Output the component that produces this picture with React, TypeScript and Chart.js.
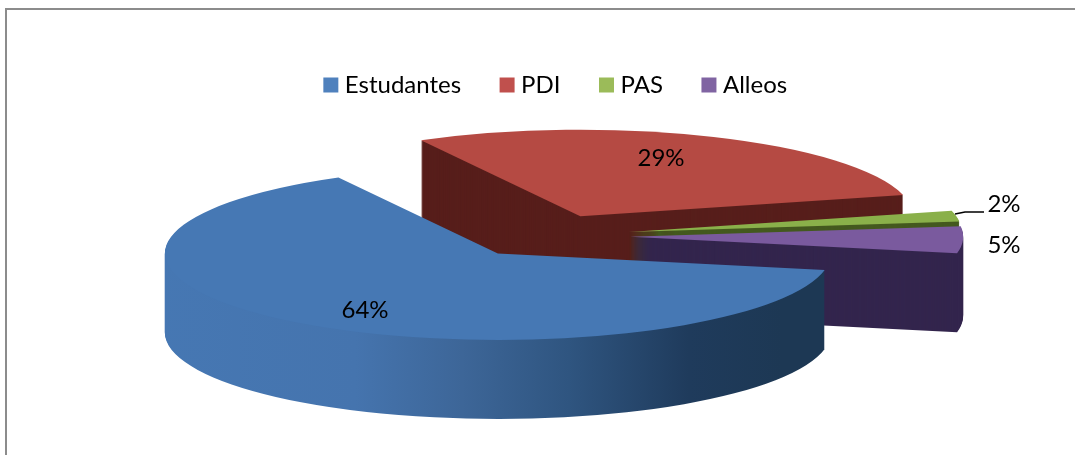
import React, { useEffect, useRef } from "react";
import { Chart, registerables } from "chart.js";

Chart.register(...registerables);

const categories = ["Estudantes", "PDI", "PAS", "Alleos"];
const values = [64, 29, 2, 5];
const legendColors = ["#4f81bd", "#c0504d", "#9bbb59", "#8064a2"];
const faceColors = ["#4678b4", "#b54a43", "#8ab04a", "#7a5a9e"];
const sideColors = ["#3c6594", "#571e1b", "#44591f", "#33254d"];
const blueSideStops: [number, string][] = [
  [0, "#4678b4"],
  [0.36, "#4574ae"],
  [0.52, "#3d6698"],
  [0.68, "#2f5580"],
  [0.86, "#1f3b5c"],
  [1, "#1d3854"],
];
const labelCenters = [
  [365, 310],
  [661, 158],
  [1004, 204],
  [1004, 245],
];
const FONT = "Lato, 'Open Sans', sans-serif";
const drawOrder = [1, 2, 3, 0];
const BASE_RADIUS = 160;
const EXPLODE = 0.25;
const RADIUS_X = 333;
const RADIUS_Y = 86.5;
const DEPTH = 79;
const CENTER_X = 547;
const CENTER_Y = 236;

const pie3d = {
  id: "pie3d",
  beforeDatasetsDraw(chart: any) {
    const ctx = chart.ctx as CanvasRenderingContext2D;
    const arcs = chart.getDatasetMeta(0).data as any[];
    const sx = RADIUS_X / BASE_RADIUS;
    const sy = RADIUS_Y / BASE_RADIUS;
    const paint = (arc: any, color: any, drop: number) => {
      const mid = (arc.startAngle + arc.endAngle) / 2;
      const copy = Object.create(arc);
      copy.options = { ...arc.options, backgroundColor: color, borderWidth: 0 };
      ctx.save();
      ctx.translate(CENTER_X, CENTER_Y + drop);
      ctx.scale(sx, sy);
      ctx.translate(
        Math.cos(mid) * EXPLODE * BASE_RADIUS - arc.x,
        Math.sin(mid) * EXPLODE * BASE_RADIUS - arc.y
      );
      copy.draw(ctx);
      ctx.restore();
    };
    for (const i of drawOrder) {
      const arc = arcs[i];
      let side: any = sideColors[i];
      if (i === 0) {
        // The gradient lives in the arc's own space, so it follows the scale.
        const mid = (arc.startAngle + arc.endAngle) / 2;
        const left = arc.x + Math.cos(mid) * EXPLODE * BASE_RADIUS - BASE_RADIUS;
        const g = ctx.createLinearGradient(left, 0, left + 2 * BASE_RADIUS, 0);
        blueSideStops.forEach(([p, c]) => g.addColorStop(p, c));
        side = g;
      }
      for (let d = DEPTH; d >= 1; d--) paint(arc, side, d);
      paint(arc, faceColors[i], 0);
    }
    return false;
  },
  afterDraw(chart: any) {
    const ctx = chart.ctx as CanvasRenderingContext2D;
    ctx.save();
    ctx.strokeStyle = "#000";
    ctx.lineWidth = 1.5;
    ctx.beginPath();
    ctx.moveTo(955, 214);
    ctx.lineTo(965, 212);
    ctx.lineTo(984, 212);
    ctx.stroke();
    ctx.fillStyle = "#000";
    ctx.font = `24px ${FONT}`;
    ctx.textAlign = "center";
    ctx.textBaseline = "middle";
    values.forEach((v, i) => {
      ctx.fillText(`${v}%`, labelCenters[i][0], labelCenters[i][1]);
    });
    ctx.restore();
  },
};

export default function App() {
  const ref = useRef<HTMLCanvasElement>(null);
  useEffect(() => {
    const chart = new Chart(ref.current as HTMLCanvasElement, {
      type: "pie",
      data: {
        labels: categories,
        datasets: [
          { data: values, backgroundColor: legendColors, borderWidth: 0 },
        ],
      },
      options: {
        animation: false,
        responsive: false,
        rotation: 101,
        radius: BASE_RADIUS,
        events: [],
        layout: { padding: { left: 41, top: 29 } },
        plugins: {
          tooltip: { enabled: false },
          legend: {
            position: "top",
            labels: {
              usePointStyle: true,
              pointStyle: "rect",
              boxWidth: 4,
              boxHeight: 15,
              padding: 44,
              color: "#000",
              font: { family: FONT, size: 24 },
            },
          },
        },
      },
      plugins: [pie3d],
    } as any);
    return () => chart.destroy();
  }, []);
  return (
    <div style={{ position: "absolute", left: 0, top: 0, width: 1075, height: 455, background: "#fff", overflow: "hidden" }}>
      <canvas ref={ref} width={1075} height={455} style={{ position: "absolute", left: 0, top: 0 }} />
      <div style={{ position: "absolute", left: 5, top: 8, width: 1070, height: 2, background: "#8c8c8c" }} />
      <div style={{ position: "absolute", left: 5, top: 8, width: 2, height: 447, background: "#8c8c8c" }} />
    </div>
  );
}
